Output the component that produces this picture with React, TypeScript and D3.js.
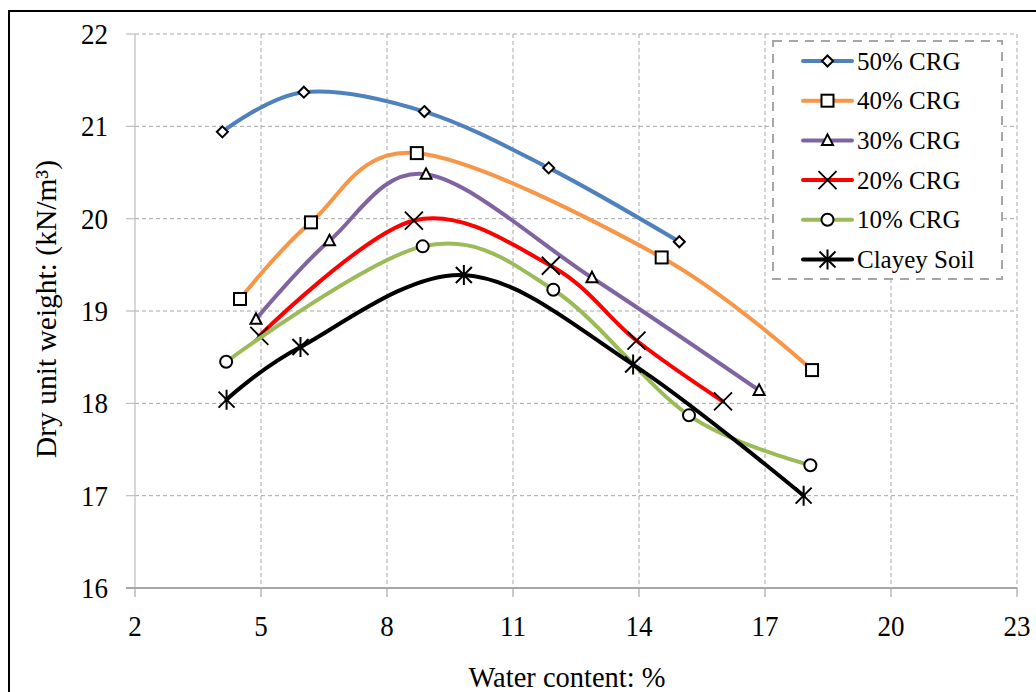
import React from 'react';
import * as d3 from 'd3';

// ---- data ----
const xTicks = [2, 5, 8, 11, 14, 17, 20, 23];
const yTicks = [16, 17, 18, 19, 20, 21, 22];

const seriesNames = ['50% CRG', '40% CRG', '30% CRG', '20% CRG', '10% CRG', 'Clayey Soil'];

const water50 = [4.08, 6.02, 8.89, 11.85, 14.96];
const dry50 = [20.94, 21.37, 21.16, 20.55, 19.75];

const water40 = [4.5, 6.19, 8.71, 14.54, 18.12];
const dry40 = [19.13, 19.96, 20.71, 19.58, 18.36];

const water30 = [4.88, 6.63, 8.93, 12.88, 16.86];
const dry30 = [18.91, 19.76, 20.48, 19.36, 18.14];

const water20 = [4.96, 8.64, 11.9, 13.94, 16.0];
const dry20 = [18.73, 19.98, 19.49, 18.68, 18.02];

const water10 = [4.17, 8.85, 11.96, 15.19, 18.08];
const dry10 = [18.45, 19.7, 19.23, 17.87, 17.33];

const waterClay = [4.18, 5.94, 9.83, 13.86, 17.92];
const dryClay = [18.04, 18.61, 19.39, 18.42, 17.0];

const seriesColors = ['#4F81BD', '#F79646', '#8064A2', '#FF0000', '#9BBB59', '#000000'];
const seriesMarkers = ['diamond', 'square', 'triangle', 'x', 'circle', 'asterisk'];

const xLabel = 'Water content: %';
const yLabel = 'Dry unit weight: (kN/m³)';

// ---- layout ----
const W = 1036;
const H = 692;
const left = 135;
const right = 1017;
const top = 34;
const bottom = 588;
const FONT = "'Liberation Serif', 'Times New Roman', serif";

const xScale = d3.scaleLinear().domain([2, 23]).range([left, right]);
const yScale = d3.scaleLinear().domain([16, 22]).range([bottom, top]);

const allWater = [water50, water40, water30, water20, water10, waterClay];
const allDry = [dry50, dry40, dry30, dry20, dry10, dryClay];

const series = seriesNames.map((name, i) => ({
  name,
  color: seriesColors[i],
  marker: seriesMarkers[i],
  points: allWater[i].map((w, j) => [w, allDry[i][j]] as [number, number]),
}));

const lineGen = d3
  .line<[number, number]>()
  .x((d) => xScale(d[0]))
  .y((d) => yScale(d[1]))
  .curve(d3.curveCardinal.tension(0));

function Marker({ type, x, y }: { type: string; x: number; y: number }) {
  const s = { stroke: '#000', strokeWidth: 2, fill: '#fff' };
  const t = `translate(${x},${y})`;
  switch (type) {
    case 'diamond':
      return <path transform={t} d="M0,-5.5L5.5,0L0,5.5L-5.5,0Z" {...s} />;
    case 'square':
      return <rect transform={t} x={-6} y={-6} width={12} height={12} {...s} />;
    case 'triangle':
      return <path transform={t} d="M0,-6L5.5,4.5L-5.5,4.5Z" {...s} />;
    case 'circle':
      return <circle transform={t} r={6} {...s} />;
    case 'x':
      return (
        <path transform={t} d="M-9,-9L9,9M-9,9L9,-9" stroke="#000" strokeWidth={1.8} fill="none" />
      );
    case 'asterisk':
      return (
        <path
          transform={t}
          d="M-8,-8L8,8M-8,8L8,-8M0,-10L0,10"
          stroke="#000"
          strokeWidth={2}
          fill="none"
        />
      );
    default:
      return null;
  }
}

export default function App() {
  const legendX = 773;
  const legendY = 41;
  const legendW = 229;
  const legendH = 238;
  const rowY0 = 61;
  const rowStep = 39.7;

  return (
    <svg
      width={W}
      height={H}
      style={{ position: 'absolute', left: 0, top: 0, background: '#fff' }}
      fontFamily={FONT}
    >
      <rect x={0} y={0} width={W} height={H} fill="#fff" />
      {/* outer frame */}
      <rect x={9} y={11} width={1040} height={700} fill="none" stroke="#000" strokeWidth={2} />

      {/* horizontal gridlines */}
      {yTicks.slice(1).map((v) => (
        <line
          key={'hy' + v}
          x1={left}
          x2={right}
          y1={yScale(v)}
          y2={yScale(v)}
          stroke="#a6a6a6"
          strokeWidth={1}
          strokeDasharray="4,3"
        />
      ))}
      {/* vertical gridlines */}
      {xTicks.slice(1).map((v) => (
        <line
          key={'vx' + v}
          x1={xScale(v)}
          x2={xScale(v)}
          y1={top}
          y2={bottom}
          stroke="#a6a6a6"
          strokeWidth={1}
          strokeDasharray="4,3"
        />
      ))}

      {/* y axis */}
      <line x1={left} x2={left} y1={top} y2={bottom} stroke="#bdbdbd" strokeWidth={1.2} />
      {yTicks.map((v) => (
        <g key={'yt' + v}>
          <line x1={left - 9} x2={left} y1={yScale(v)} y2={yScale(v)} stroke="#bdbdbd" strokeWidth={1.2} />
          <text
            transform={`translate(108,${yScale(v)}) scale(0.9,1)`}
            textAnchor="end"
            dominantBaseline="central"
            fontSize={30}
            fontFamily={FONT}
            fill="#000"
          >
            {v}
          </text>
        </g>
      ))}

      {/* x axis */}
      <line x1={left - 9} x2={right} y1={bottom} y2={bottom} stroke="#a6a6a6" strokeWidth={2} />
      {xTicks.map((v) => (
        <g key={'xt' + v}>
          <line x1={xScale(v)} x2={xScale(v)} y1={bottom} y2={bottom + 9} stroke="#a6a6a6" strokeWidth={1.2} />
          <text
            transform={`translate(${xScale(v)},626) scale(0.9,1)`}
            textAnchor="middle"
            dominantBaseline="central"
            fontSize={30}
            fontFamily={FONT}
            fill="#000"
          >
            {v}
          </text>
        </g>
      ))}

      {/* axis titles */}
      <text
        transform="translate(567,677) scale(0.95,1)"
        textAnchor="middle"
        dominantBaseline="central"
        fontSize={30}
        fontFamily={FONT}
        fill="#000"
      >
        {xLabel}
      </text>
      <text
        transform="translate(46,309) rotate(-90)"
        textAnchor="middle"
        dominantBaseline="central"
        fontSize={29.5}
        fontFamily={FONT}
        fill="#000"
      >
        {yLabel}
      </text>

      {/* series */}
      {series.map((s) => (
        <g key={s.name}>
          <path d={lineGen(s.points) || ''} fill="none" stroke={s.color} strokeWidth={4} strokeLinecap="round" />
          {s.points.map((p, j) => (
            <Marker key={j} type={s.marker} x={xScale(p[0])} y={yScale(p[1])} />
          ))}
        </g>
      ))}

      {/* legend */}
      <rect
        x={legendX}
        y={legendY}
        width={legendW}
        height={legendH}
        fill="#fff"
        stroke="#a6a6a6"
        strokeWidth={2}
        strokeDasharray="9,7"
      />
      {series.map((s, i) => {
        const y = rowY0 + i * rowStep;
        return (
          <g key={'lg' + s.name}>
            <line x1={803} x2={852} y1={y} y2={y} stroke={s.color} strokeWidth={4} strokeLinecap="round" />
            <Marker type={s.marker} x={827.5} y={y} />
            <text x={857} y={y} dominantBaseline="central" fontSize={25} fontFamily={FONT} fill="#000">
              {s.name}
            </text>
          </g>
        );
      })}
    </svg>
  );
}
